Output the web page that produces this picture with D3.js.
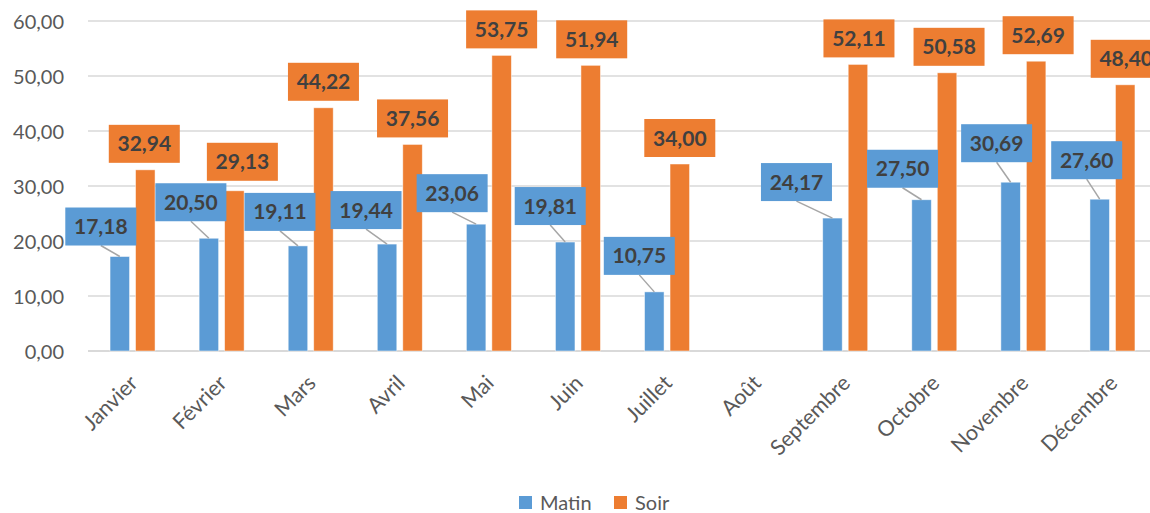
<!DOCTYPE html>
<html>
<head>
<meta charset="utf-8">
<script src="https://cdn.jsdelivr.net/npm/d3@7"></script>
<style>
  html, body { margin: 0; padding: 0; background: #fff; }
  svg { display: block; }
  text { font-family: Lato, "Open Sans", sans-serif; }
</style>
</head>
<body>
<div id="chart"></div>
<script>
// ---- Data ----
const months = ["Janvier", "Février", "Mars", "Avril", "Mai", "Juin", "Juillet", "Août", "Septembre", "Octobre", "Novembre", "Décembre"];
const matin = [17.18, 20.50, 19.11, 19.44, 23.06, 19.81, 10.75, null, 24.17, 27.50, 30.69, 27.60];
const soir  = [32.94, 29.13, 44.22, 37.56, 53.75, 51.94, 34.00, null, 52.11, 50.58, 52.69, 48.40];
const yTicks = [0, 10, 20, 30, 40, 50, 60];
const seriesNames = ["Matin", "Soir"];

// label box offsets (pixels, box centre relative to bar top-centre) as placed in the original
const matinLabelOffset = [[-19, -30], [-18, -36], [-18, -34], [-21, -34], [-24, -31], [-15, -36], [-15, -36], [0, 0], [-36, -36], [-19, -31], [-14, -39], [-13, -39]];
const soirLabelOffset  = [[-1, -26], [8, -29], [0, -26], [0, -26], [0, -26], [1, -26], [0, -26], [0, 0], [1, -26], [2, -26], [2, -26], [1, -26]];

// ---- Layout ----
const W = 1150, H = 513;
const colors = { Matin: "#5B9BD5", Soir: "#ED7D31" };
const fr = d3.formatLocale({ decimal: ",", thousands: " ", grouping: [3], currency: ["", " €"] });
const fmt = fr.format(".2f");

const svg = d3.select("#chart").append("svg").attr("width", W).attr("height", H);

const x = d3.scaleBand().domain(months).range([88, 1157]).padding(0);
const y = d3.scaleLinear().domain([0, 60]).range([351, 21]);
const groupW = 45;
const xs = d3.scaleBand().domain(seriesNames).range([0, groupW]).paddingInner(0.235).paddingOuter(0);
const groupX = m => x(m) + x.bandwidth() / 2 - groupW / 2;

// gridlines
svg.append("g").selectAll("line").data(yTicks).join("line")
  .attr("x1", 88).attr("x2", W)
  .attr("y1", d => y(d)).attr("y2", d => y(d))
  .attr("stroke", "#D9D9D9").attr("stroke-width", d => d === 0 ? 2 : 1.5);

// y axis labels
const yAxis = d3.axisLeft(y).tickValues(yTicks).tickFormat(fmt).tickSize(0).tickPadding(0);
const yg = svg.append("g").attr("transform", "translate(64,0)").call(yAxis);
yg.select(".domain").remove();
yg.selectAll("text").attr("font-family", "Lato, sans-serif").attr("font-size", 20).attr("fill", "#595959").attr("dy", "0.36em");

// x axis labels
const xAxis = d3.axisBottom(x).tickSize(0).tickPadding(0);
const xg = svg.append("g").attr("transform", "translate(0,351)").call(xAxis);
xg.select(".domain").remove();
xg.selectAll(".tick text")
  .attr("font-family", "Lato, sans-serif").attr("font-size", 21.5).attr("fill", "#595959")
  .attr("text-anchor", "end").attr("y", 0).attr("dy", "0.75em")
  .attr("transform", "translate(-5,22) rotate(-45)");

// bars
const rows = months.map((m, i) => ({ m, i, Matin: matin[i], Soir: soir[i] }));
const barData = [];
rows.forEach(r => seriesNames.forEach(s => { if (r[s] != null) barData.push({ m: r.m, i: r.i, s, v: r[s] }); }));

svg.append("g").selectAll("rect").data(barData).join("rect")
  .attr("x", d => groupX(d.m) + xs(d.s))
  .attr("width", xs.bandwidth())
  .attr("y", d => y(d.v))
  .attr("height", d => y(0) - y(d.v))
  .attr("fill", d => colors[d.s])
  .attr("stroke", "#ffffff").attr("stroke-opacity", 0.6).attr("stroke-width", 0.8);

// labels
const boxW = 71, boxH = 38;
const labels = barData.map(d => {
  const off = d.s === "Matin" ? matinLabelOffset[d.i] : soirLabelOffset[d.i];
  const bx = groupX(d.m) + xs(d.s) + xs.bandwidth() / 2;
  const by = y(d.v);
  return { ...d, bx, by, cx: bx + off[0], cy: by + off[1] };
});

// leader lines for Matin
svg.append("g").selectAll("line").data(labels.filter(d => d.s === "Matin")).join("line")
  .attr("x1", d => d.cx).attr("y1", d => d.cy + boxH / 2)
  .attr("x2", d => d.bx).attr("y2", d => d.by)
  .attr("stroke", "#A6A6A6").attr("stroke-width", 1.5);

const lg = svg.append("g").selectAll("g").data(labels).join("g")
  .attr("transform", d => `translate(${d.cx},${d.cy})`);
lg.append("rect")
  .attr("x", -boxW / 2).attr("y", -boxH / 2).attr("width", boxW).attr("height", boxH)
  .attr("fill", d => colors[d.s]);
lg.append("text")
  .attr("text-anchor", "middle").attr("dy", "0.36em")
  .attr("font-family", "Lato, sans-serif").attr("font-weight", "bold").attr("font-size", 21)
  .attr("fill", "#404040")
  .text(d => fmt(d.v));

// legend
const leg = svg.append("g").selectAll("g").data(seriesNames).join("g")
  .attr("transform", (d, i) => `translate(${[519, 614][i]},496)`);
leg.append("rect").attr("width", 13).attr("height", 13).attr("fill", d => colors[d]);
leg.append("text").attr("x", 21).attr("y", 14)
  .attr("font-family", "Lato, sans-serif").attr("font-size", 20).attr("fill", "#595959")
  .text(d => d);
</script>
</body>
</html>
